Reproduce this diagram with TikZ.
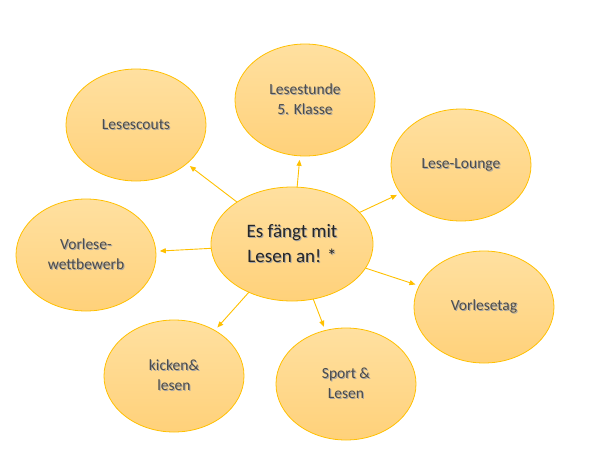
\documentclass[tikz,border=0pt]{standalone}
\usepackage{fontspec}
\setmainfont{Carlito}
\usetikzlibrary{shapes.geometric,arrows.meta}
\definecolor{ringgold}{HTML}{FFC000}
\definecolor{filltop}{HTML}{FFE0A0}
\definecolor{fillbot}{HTML}{FFD17A}
\newcommand{\shtext}[1]{\leavevmode\rlap{\kern1pt\raisebox{-1pt}{\color{black!35}#1}}#1}
\tikzset{
  bubble/.style={ellipse, draw=ringgold, line width=0.8pt, top color=filltop, bottom color=fillbot,
    minimum width=140pt, minimum height=112pt, inner sep=0pt, outer sep=0pt, align=center,
    text=black!70, font=\fontsize{15.5}{20}\selectfont},
  hub/.style={bubble, minimum width=162pt, minimum height=114pt, text=black!85,
    font=\fontsize{19}{25}\selectfont},
  arr/.style={draw=ringgold, line width=0.9pt, -{Triangle[length=6pt,width=5pt]}, shorten >=4pt}
}
\begin{document}
\begin{tikzpicture}[x=1pt,y=-1pt]
\useasboundingbox (0,0) rectangle (590,456);

\node[hub] (lesen) at (292,244) {\shtext{Es fängt mit}\\\shtext{Lesen an! *}};

\node[bubble] (scouts) at (136,125) {\shtext{Lesescouts}};
\node[bubble] (stunde) at (305,100) {\shtext{Lesestunde}\\\shtext{5. Klasse}};
\node[bubble] (lounge) at (461,165) {\shtext{Lese-Lounge}};
\node[bubble] (wettb) at (86,255) {\shtext{Vorlese-}\\\shtext{wettbewerb}};
\node[bubble] (vtag) at (484,307) {\shtext{Vorlesetag}};
\node[bubble] (kicken) at (174,376) {\shtext{kicken\&}\\\shtext{lesen}};
\node[bubble] (sport) at (346,384) {\shtext{Sport \&}\\\shtext{Lesen}};

\draw[arr] (lesen) -- (scouts);
\draw[arr] (lesen) -- (stunde);
\draw[arr] (lesen) -- (lounge);
\draw[arr] (lesen) -- (wettb);
\draw[arr] (lesen) -- (vtag);
\draw[arr] (lesen) -- (kicken);
\draw[arr] (lesen) -- (sport);
\end{tikzpicture}
\end{document}
